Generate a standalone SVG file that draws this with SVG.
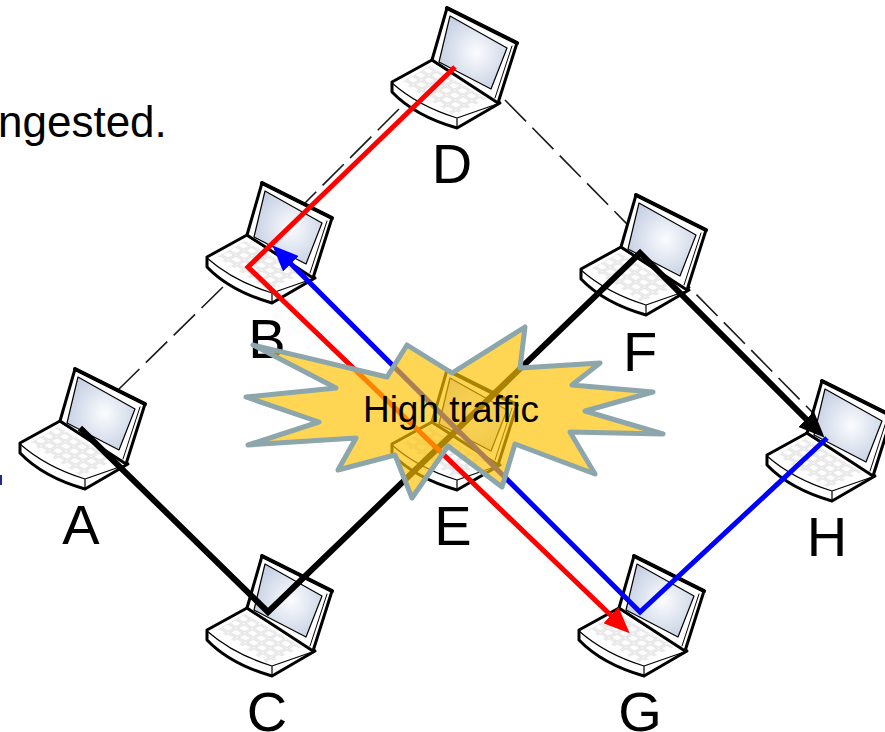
<svg xmlns="http://www.w3.org/2000/svg" width="885" height="732" viewBox="0 0 885 732">
<style>
.lbl{font-family:"Liberation Sans",Arial,sans-serif;font-size:56px;fill:#000;text-anchor:middle}
.dash{fill:none;stroke:#1a1a1a;stroke-width:1.6;stroke-dasharray:30 9}
.link{fill:none;stroke-linejoin:miter}
.star{fill:#FFC000;fill-opacity:.67;stroke:#8CA6AB;stroke-width:5;stroke-linejoin:round}
</style>
<defs>
<filter id="soft" x="-5%" y="-5%" width="110%" height="110%"><feGaussianBlur stdDeviation="0.5"/></filter>
<radialGradient id="scr" cx=".55" cy=".5" r=".6"><stop offset="0" stop-color="#fbfcfe"/><stop offset="1" stop-color="#c3cee2"/></radialGradient>
<pattern id="keys" width="10" height="9" patternUnits="userSpaceOnUse" patternTransform="matrix(.86 .5 -.86 .5 0 0)">
<rect x="1" y="1" width="8" height="7" fill="#fff" stroke="#d6d6d6" stroke-width="1"/>
</pattern>
<marker id="hk" viewBox="0 0 26 22" refX="14" refY="11" markerWidth="26" markerHeight="22" markerUnits="userSpaceOnUse" orient="auto"><path d="M0 0L26 11L0 22z" fill="#000"/></marker>
<marker id="hr" viewBox="0 0 26 22" refX="14" refY="11" markerWidth="26" markerHeight="22" markerUnits="userSpaceOnUse" orient="auto"><path d="M0 0L26 11L0 22z" fill="#f00"/></marker>
<marker id="hb" viewBox="0 0 26 22" refX="14" refY="11" markerWidth="26" markerHeight="22" markerUnits="userSpaceOnUse" orient="auto"><path d="M0 0L26 11L0 22z" fill="#00f"/></marker>
<g id="laptop" stroke-linejoin="round" stroke-linecap="round" filter="url(#soft)">
<path d="M42 52L2 74L2 84Q25 108 67 120L110 95L108 93z" fill="#fff" stroke="#000" stroke-width="3"/>
<path d="M2 75Q28 98 67 110L110 95M67 110V120" fill="none" stroke="#000" stroke-width="1.2"/>
<path d="M40 58L97 91L63 107L12 74z" fill="url(#keys)"/>
<path d="M57 0L127 35L108 95L42 52z" fill="#fff" stroke="#000" stroke-width="3"/>
<path d="M57 0L127 35" fill="none" stroke="#000" stroke-width="4"/>
<path d="M60 8L117 40L101 81L49 54z" fill="url(#scr)" stroke="#000" stroke-width="1.2"/>
<path d="M122 38L105 90" fill="none" stroke="#000" stroke-width="1"/>
</g>
</defs>
<g id="caption"><text x="-2" y="137" font-family="Liberation Sans,Arial,sans-serif" font-size="44" fill="#000">ngested.</text>
<rect x="0" y="475" width="2" height="10" fill="#1c2a8c"/></g>
<g id="connectors-dashed">
<path class="dash" d="M118 390L226 284"/>
<path class="dash" d="M295 213L410 98"/>
<path class="dash" d="M505 100L815 415"/>
<path class="dash" d="M500 390L600 290"/>
<path class="dash" d="M655 600L790 470"/>
</g>
<g id="node-A"><use href="#laptop" x="18" y="369"/><text class="lbl" x="81" y="544">A</text></g>
<g id="node-B"><use href="#laptop" x="205" y="183"/><text class="lbl" x="267" y="358">B</text></g>
<g id="node-C"><use href="#laptop" x="205" y="556"/><text class="lbl" x="267" y="731">C</text></g>
<g id="node-D"><use href="#laptop" x="390" y="8"/><text class="lbl" x="452" y="183">D</text></g>
<g id="node-E"><use href="#laptop" x="390" y="370"/><text class="lbl" x="453" y="545">E</text></g>
<g id="node-F"><use href="#laptop" x="579" y="195"/><text class="lbl" x="640" y="371">F</text></g>
<g id="node-G"><use href="#laptop" x="577" y="556"/><text class="lbl" x="640" y="731">G</text></g>
<g id="node-H"><use href="#laptop" x="765" y="381"/><text class="lbl" x="827" y="556">H</text></g>
<g id="connectors">
<path class="link" stroke="#000" stroke-width="6" marker-end="url(#hk)" d="M80 428L268 612L640 253L816 429"/>
<path class="link" stroke="#f00" stroke-width="5" marker-end="url(#hr)" d="M455 67L248 267L621 625"/>
<path class="link" stroke="#00f" stroke-width="5" marker-end="url(#hb)" d="M827 438L640 612L281 254"/>
</g>
<g id="high-traffic">
<polygon class="star" points="253,345 387,377 407,345 452,373 525,327 520,368 600,363 572,385 653,392 585,411 663,434 570,432 595,474 515,444 502,487 448,446 412,498 395,455 338,470 356,438 248,445 319,422 246,397 336,388"/>
<text x="451" y="422" font-family="Liberation Sans,Arial,sans-serif" font-size="37" fill="#000" text-anchor="middle">High traffic</text>
</g>
</svg>
